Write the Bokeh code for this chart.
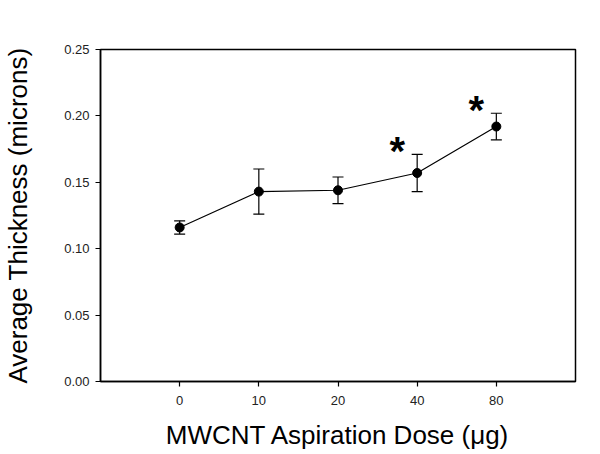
from bokeh.plotting import figure
from bokeh.models import ColumnDataSource, Whisker, TeeHead, FixedTicker, PrintfTickFormatter, Range1d
from bokeh.core.properties import value
from bokeh.embed import file_html
from bokeh.resources import INLINE

doses = ["0", "10", "20", "40", "80"]
thickness = [0.116, 0.143, 0.144, 0.157, 0.192]
sem = [0.005, 0.017, 0.010, 0.014, 0.010]
significant = [False, False, False, True, True]
y_ticks = [0.0, 0.05, 0.10, 0.15, 0.20, 0.25]

xs = list(range(len(doses)))
src = ColumnDataSource(dict(
    x=xs, y=thickness,
    lower=[m - e for m, e in zip(thickness, sem)],
    upper=[m + e for m, e in zip(thickness, sem)],
))

p = figure(width=592, height=452, output_backend="svg", toolbar_location=None,
           x_range=Range1d(-1, len(doses)), y_range=Range1d(0, 0.25),
           min_border_left=100, min_border_top=49, min_border_right=17, min_border_bottom=71)
p.background_fill_color = "white"
p.border_fill_color = "white"
p.outline_line_color = "black"
p.outline_line_width = 1.5
p.xgrid.visible = False
p.ygrid.visible = False

font = "Liberation Sans"
for ax in (p.xaxis[0], p.yaxis[0]):
    ax.axis_line_width = 1.5
    ax.axis_line_color = "black"
    ax.major_tick_line_color = "black"
    ax.major_tick_line_width = 1.2
    ax.major_tick_in = 0
    ax.major_tick_out = 5
    ax.minor_tick_line_color = None
    ax.major_label_text_font = font
    ax.major_label_text_font_size = "13px"
    ax.major_label_text_color = "#222222"
    ax.axis_label_text_font = font
    ax.axis_label_text_font_size = "26px"
    ax.axis_label_text_font_style = "normal"
    ax.axis_label_text_color = "black"

p.xaxis.ticker = FixedTicker(ticks=xs)
p.xaxis.major_label_overrides = {i: d for i, d in zip(xs, doses)}
p.xaxis.major_label_standoff = 9
p.xaxis.axis_label = "MWCNT Aspiration Dose (\u03bcg)"
p.xaxis.axis_label_standoff = 12

p.yaxis.ticker = FixedTicker(ticks=y_ticks)
p.yaxis.formatter = PrintfTickFormatter(format="%.2f")
p.yaxis.major_label_standoff = 6
p.yaxis.axis_label = "Average Thickness (microns)"
p.yaxis.axis_label_standoff = 28

p.add_layout(Whisker(source=src, base="x", lower="lower", upper="upper",
                     line_color="black", line_width=1.2,
                     lower_head=TeeHead(size=11, line_color="black", line_width=1.2),
                     upper_head=TeeHead(size=11, line_color="black", line_width=1.2)))
p.line("x", "y", source=src, line_color="black", line_width=1.2)
p.scatter("x", "y", source=src, size=9, color="black")

star_src = ColumnDataSource(dict(
    x=[x for x, s in zip(xs, significant) if s],
    y=[m + e for m, e, s in zip(thickness, sem, significant) if s],
    t=["*" for s in significant if s],
))
p.text("x", "y", text="t", source=star_src, x_offset=-20, y_offset=-3,
       text_font=value(font), text_font_style="bold", text_font_size="40px",
       text_align="center", text_baseline="alphabetic", text_color="black")

open("out.html", "w").write(file_html(p, INLINE))
